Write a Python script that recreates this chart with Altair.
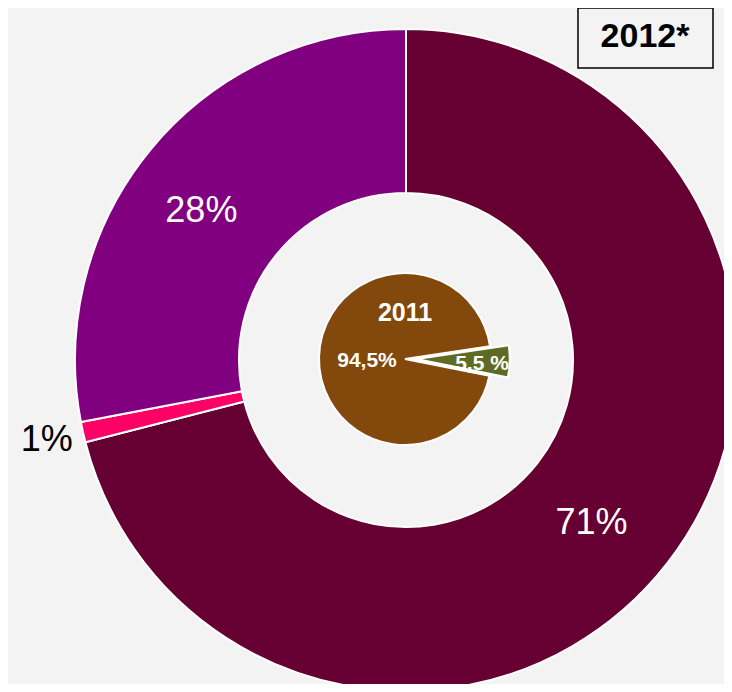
import math
import altair as alt
import pandas as pd

# ---- data ----
outer_labels = ["71%", "1%", "28%"]
outer_values = [71, 1, 28]
outer_colors = ["#660033", "#ff0066", "#800080"]

inner_labels = ["5,5 %", "94,5%"]
inner_values = [5.5, 94.5]
inner_colors = ["#5f6b22", "#83480c"]

box_title = ["2012*"]
inner_title = ["2011"]

FONT = "Liberation Sans"
BG = "#f3f3f3"
CX, CY = 398, 352

outer_df = pd.DataFrame({"cat": outer_labels, "value": outer_values,
                         "ord": list(range(len(outer_labels)))})
inner_df = pd.DataFrame({"cat": inner_labels, "value": inner_values,
                         "ord": list(range(len(inner_labels)))})

# ---- outer donut ----
ob = alt.Chart(outer_df).encode(
    theta=alt.Theta("value:Q", stack=True),
    order=alt.Order("ord:Q"),
)
outer_arc = ob.mark_arc(outerRadius=331, innerRadius=167, stroke="white", strokeWidth=2).encode(
    color=alt.Color("cat:N", scale=alt.Scale(domain=outer_labels, range=outer_colors), legend=None),
    x=alt.value(CX), y=alt.value(CY),
)
outer_txt_in = ob.mark_text(radius=250, fontSize=36, font=FONT, color="white").encode(
    text="cat:N", x=alt.value(CX - 12), y=alt.value(CY + 10),
    opacity=alt.condition("datum.cat == '1%'", alt.value(0), alt.value(1)),
)
outer_txt_out = ob.mark_text(radius=368, fontSize=36, font=FONT, color="black").encode(
    text="cat:N", x=alt.value(CX), y=alt.value(CY),
    opacity=alt.condition("datum.cat == '1%'", alt.value(1), alt.value(0)),
)
outer = alt.layer(outer_arc, outer_txt_in, outer_txt_out)

# ---- inner pie (exploded small slice) ----
t0 = math.radians(81.5)
ib_theta = alt.Theta("value:Q", stack=True, scale=alt.Scale(range=[t0, t0 + 2 * math.pi]))
inner_color = alt.Color("cat:N", scale=alt.Scale(domain=inner_labels, range=inner_colors), legend=None)

ib = alt.Chart(inner_df).encode(theta=ib_theta, order=alt.Order("ord:Q"))
brown = ib.mark_arc(outerRadius=86, stroke="white", strokeWidth=2).encode(
    color=inner_color, x=alt.value(CX - 1), y=alt.value(CY - 1),
    opacity=alt.condition("datum.cat == '94,5%'", alt.value(1), alt.value(0)),
)
green = ib.mark_arc(outerRadius=95, stroke="white", strokeWidth=2.5).encode(
    color=inner_color, x=alt.value(CX + 9), y=alt.value(CY - 1),
    opacity=alt.condition("datum.cat == '5,5 %'", alt.value(1), alt.value(0)),
)
brown_txt = ib.mark_text(radius=38, fontSize=21, fontWeight="bold", font=FONT, color="white").encode(
    text="cat:N", x=alt.value(CX - 1), y=alt.value(CY + 2),
    opacity=alt.condition("datum.cat == '94,5%'", alt.value(1), alt.value(0)),
)
green_txt = ib.mark_text(radius=67, fontSize=21, fontWeight="bold", font=FONT, color="white").encode(
    text="cat:N", x=alt.value(CX + 9), y=alt.value(CY + 2),
    opacity=alt.condition("datum.cat == '5,5 %'", alt.value(1), alt.value(0)),
)
inner = alt.layer(brown, green, brown_txt, green_txt)

title2011 = alt.Chart(pd.DataFrame({"t": inner_title})).mark_text(
    fontSize=25, fontWeight="bold", font=FONT, color="white"
).encode(text="t:N", x=alt.value(CX - 1), y=alt.value(305))

# ---- title box ----
box_df = pd.DataFrame({"t": box_title})
box = alt.Chart(box_df).mark_rect(fill=BG, stroke="black", strokeWidth=1.5).encode(
    x=alt.value(570), x2=alt.value(705), y=alt.value(0), y2=alt.value(60)
)
box_txt = alt.Chart(box_df).mark_text(fontSize=34, fontWeight="bold", font=FONT, color="black").encode(
    text="t:N", x=alt.value(637), y=alt.value(29)
)

chart = alt.layer(outer, inner, title2011, box, box_txt).resolve_scale(
    theta="independent", color="independent"
).properties(
    width=716, height=676, padding=0, autosize="none", background=BG
).configure_view(stroke=None)

chart.save("out.html", embed_options={"renderer": "svg", "actions": False})
